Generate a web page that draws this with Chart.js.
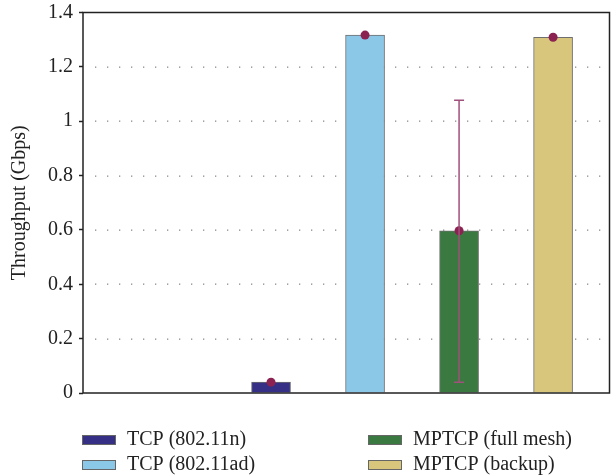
<!DOCTYPE html>
<html>
<head>
<meta charset="utf-8">
<script src="https://cdn.jsdelivr.net/npm/chart.js@4"></script>
<style>
  html, body { margin: 0; padding: 0; background: #ffffff; }
  #wrap { width: 614px; height: 475px; }
</style>
</head>
<body>
<div id="wrap"><canvas id="thrChart" width="614" height="475"></canvas></div>
<script>
// data
const seriesNames = ['TCP (802.11n)', 'TCP (802.11ad)', 'MPTCP (full mesh)', 'MPTCP (backup)'];
const slots = [2, 3, 4, 5];
const throughput = [0.04, 1.317, 0.597, 1.309];
const errLow = [null, null, 0.04, null];
const errHigh = [null, null, 1.077, null];
const yTicks = [0, 0.2, 0.4, 0.6, 0.8, 1, 1.2, 1.4];
const barColors = ['#352f86', '#8bc8e8', '#3a7a40', '#d8c67d'];

const FONT = "'Liberation Serif', 'Times New Roman', serif";
const INK = '#222222';
const DOT = '#8b2252';
const ERR = '#a0507a';

// dotted gridlines behind the bars
const gridPlugin = {
    id: 'dottedGrid',
    beforeDatasetsDraw(chart) {
        const { ctx, chartArea, scales } = chart;
        ctx.save();
        ctx.fillStyle = '#8a8a8a';
        yTicks.forEach(v => {
            if (v === 0 || v === 1.4) return;
            const y = Math.round(scales.y.getPixelForValue(v));
            for (let x = chartArea.left + 12; x < chartArea.right - 2; x += 12) {
                ctx.fillRect(x, y - 0.5, 1.3, 1.3);
            }
        });
        ctx.restore();
    }
};

// error bars + frame
const overlayPlugin = {
    id: 'overlay',
    afterDatasetsDraw(chart) {
        const { ctx, chartArea, scales } = chart;
        ctx.save();
        ctx.strokeStyle = ERR;
        ctx.lineWidth = 1.5;
        slots.forEach((s, i) => {
            if (errLow[i] == null) return;
            const x = scales.x.getPixelForValue(s);
            const y1 = scales.y.getPixelForValue(errLow[i]);
            const y2 = scales.y.getPixelForValue(errHigh[i]);
            ctx.beginPath();
            ctx.moveTo(x, y1); ctx.lineTo(x, y2);
            ctx.moveTo(x - 5, y1); ctx.lineTo(x + 5, y1);
            ctx.moveTo(x - 5, y2); ctx.lineTo(x + 5, y2);
            ctx.stroke();
        });
        ctx.strokeStyle = INK;
        ctx.lineWidth = 1.5;
        ctx.strokeRect(chartArea.left, chartArea.top, chartArea.right - chartArea.left, chartArea.bottom - chartArea.top);
        ctx.restore();
    },
    afterDraw(chart) {
        // two-column legend under the plot
        const ctx = chart.ctx;
        const cols = [82, 368];
        const rows = [440, 465];
        ctx.save();
        ctx.font = '20px ' + FONT;
        ctx.textBaseline = 'middle';
        seriesNames.forEach((name, i) => {
            const x = cols[Math.floor(i / 2)];
            const y = rows[i % 2];
            ctx.fillStyle = barColors[i];
            ctx.fillRect(x, y - 5, 34, 10);
            ctx.strokeStyle = '#666666';
            ctx.lineWidth = 1;
            ctx.strokeRect(x + 0.5, y - 4.5, 33, 9);
            ctx.fillStyle = INK;
            ctx.fillText(name, x + 45, y);
        });
        ctx.restore();
    }
};

const barSets = seriesNames.map((name, i) => ({
    type: 'bar',
    label: name,
    data: [{ x: slots[i], y: throughput[i] }],
    backgroundColor: barColors[i],
    borderColor: '#6e6e6e',
    borderWidth: 1,
    barThickness: 39,
    grouped: false,
    order: 2
}));

const dotSet = {
    type: 'line',
    label: 'mean',
    data: slots.map((s, i) => ({ x: s, y: throughput[i] })),
    showLine: false,
    pointRadius: 4.5,
    pointBackgroundColor: DOT,
    pointBorderWidth: 0,
    order: 1
};

new Chart(document.getElementById('thrChart').getContext('2d'), {
    type: 'bar',
    data: { datasets: [dotSet, ...barSets] },
    options: {
        responsive: false,
        animation: false,
        layout: { padding: { left: 0, right: 3, top: 12.5, bottom: 82 } },
        plugins: {
            legend: { display: false },
            tooltip: { enabled: false }
        },
        scales: {
            x: {
                type: 'linear',
                min: 0,
                max: 5.6,
                offset: false,
                display: false
            },
            y: {
                min: 0,
                max: 1.4,
                afterFit(scale) {
                    scale.width = 83;
                    scale.paddingTop = 0;
                    scale.paddingBottom = 0;
                },
                afterBuildTicks(scale) { scale.ticks = yTicks.map(v => ({ value: v })); },
                ticks: {
                    color: INK,
                    padding: 6,
                    font: { family: FONT, size: 20 },
                    callback: v => String(+v.toFixed(1))
                },
                grid: {
                    drawOnChartArea: false,
                    drawTicks: true,
                    tickLength: 4,
                    tickColor: INK,
                    tickWidth: 1.5
                },
                border: { display: false },
                title: {
                    display: true,
                    text: 'Throughput (Gbps)',
                    color: INK,
                    font: { family: FONT, size: 20 },
                    padding: { top: 8, bottom: 0 }
                }
            }
        }
    },
    plugins: [gridPlugin, overlayPlugin]
});
</script>
</body>
</html>
